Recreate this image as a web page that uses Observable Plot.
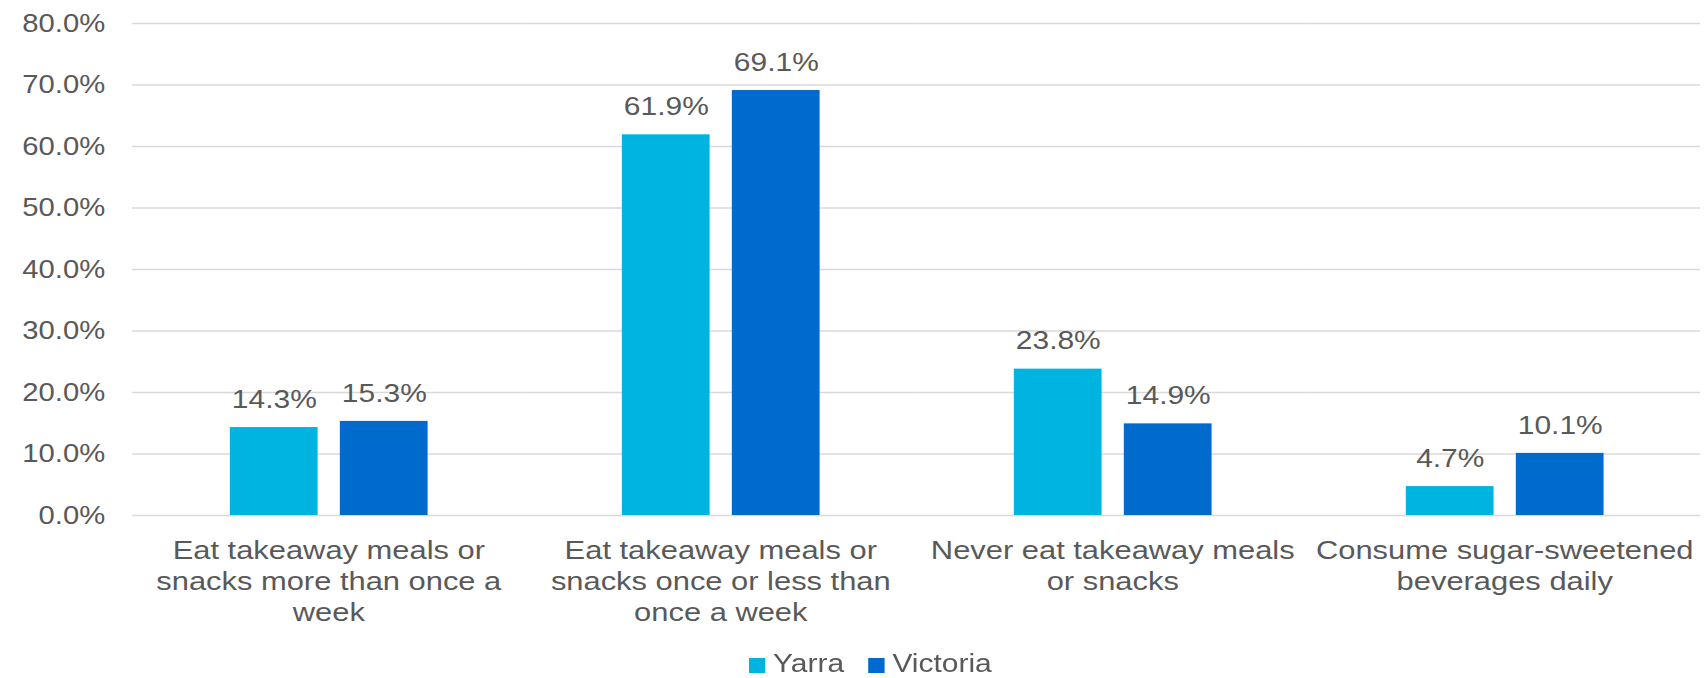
<!DOCTYPE html>
<html>
<head>
<meta charset="utf-8">
<script src="https://cdn.jsdelivr.net/npm/d3@7"></script>
<script src="https://cdn.jsdelivr.net/npm/@observablehq/plot@0.6"></script>
<style>
  html, body { margin: 0; padding: 0; background: #fff; overflow: hidden; }
  #wrap { transform-origin: 0 0; }
  #legend { display: flex; justify-content: center; align-items: flex-start; padding-left: 30px; height: 38px;
            font-family: "Liberation Sans", Arial, sans-serif; font-size: 25.6px; line-height: 25.6px; color: #595959; }
  #legend .item { display: flex; align-items: flex-start; }
  #legend .sw { display: inline-block; width: 13.7px; height: 15px; margin-top: 18px; margin-right: 6.6px; }
  #legend .lb { margin-top: 11.3px; }
</style>
</head>
<body>
<div id="wrap"></div>
<script>
// ---- data ----
const categories = [
  "Eat takeaway meals or snacks more than once a week",
  "Eat takeaway meals or snacks once or less than once a week",
  "Never eat takeaway meals or snacks",
  "Consume sugar-sweetened beverages daily"
];
const categoryLabels = [
  "Eat takeaway meals or\nsnacks more than once a\nweek",
  "Eat takeaway meals or\nsnacks once or less than\nonce a week",
  "Never eat takeaway meals\nor snacks",
  "Consume sugar-sweetened\nbeverages daily"
];
const seriesNames = ["Yarra", "Victoria"];
const yarra = [14.3, 61.9, 23.8, 4.7];
const victoria = [15.3, 69.1, 14.9, 10.1];
const seriesColors = ["#00B4E1", "#006BCC"];
const yTicks = [0, 10, 20, 30, 40, 50, 60, 70, 80];

// ---- tables built from the arrays ----
const rows = categories.flatMap((c, i) => [
  {category: c, series: seriesNames[0], value: yarra[i]},
  {category: c, series: seriesNames[1], value: victoria[i]}
]);
const labelRows = categories.map((c, i) => ({category: c, label: categoryLabels[i]}));

const W = 1458;
const S = 1706 / W;
const textColor = "#595959";

const chart = Plot.plot({
  width: W,
  height: 640,
  marginTop: 23,
  marginBottom: 125,
  marginLeft: 112.55,
  marginRight: 4.3,
  style: {fontFamily: "'Liberation Sans', Arial, sans-serif", fontSize: "25.6px", color: textColor, background: "#fff"},
  fx: {domain: categories, padding: 0, axis: null},
  x: {domain: seriesNames, paddingInner: 0.207, paddingOuter: 0.869, axis: null},
  y: {domain: [0, 80], axis: null},
  color: {domain: seriesNames, range: seriesColors},
  marks: [
    Plot.gridY(yTicks, {stroke: "#d9d9d9", strokeOpacity: 1, strokeWidth: 1.6}),
    Plot.axisY(yTicks, {tickSize: 0, tickPadding: 23.6, tickFormat: d => d.toFixed(1) + "%", label: null, fill: textColor, fontSize: 25}),
    Plot.barY(rows, {fx: "category", x: "series", y: "value", fill: "series"}),
    Plot.text(rows, {fx: "category", x: "series", y: "value", text: d => d.value.toFixed(1) + "%", dy: -28, fill: textColor}),
    Plot.text(labelRows, {fx: "category", text: "label", frameAnchor: "bottom", lineAnchor: "top", dy: 21.5, fontSize: 26.4, lineHeight: 1.175, fill: textColor})
  ]
});

const wrap = document.getElementById("wrap");
wrap.style.width = W + "px";
wrap.style.transform = `scaleX(${S})`;
wrap.appendChild(chart);

const legend = document.createElement("div");
legend.id = "legend";
seriesNames.forEach((name, i) => {
  const item = document.createElement("span");
  item.className = "item";
  if (i < seriesNames.length - 1) item.style.marginRight = "21px";
  const sw = document.createElement("span");
  sw.className = "sw";
  sw.style.background = seriesColors[i];
  const lb = document.createElement("span");
  lb.className = "lb";
  lb.textContent = name;
  item.appendChild(sw);
  item.appendChild(lb);
  legend.appendChild(item);
});
wrap.appendChild(legend);
</script>
</body>
</html>
